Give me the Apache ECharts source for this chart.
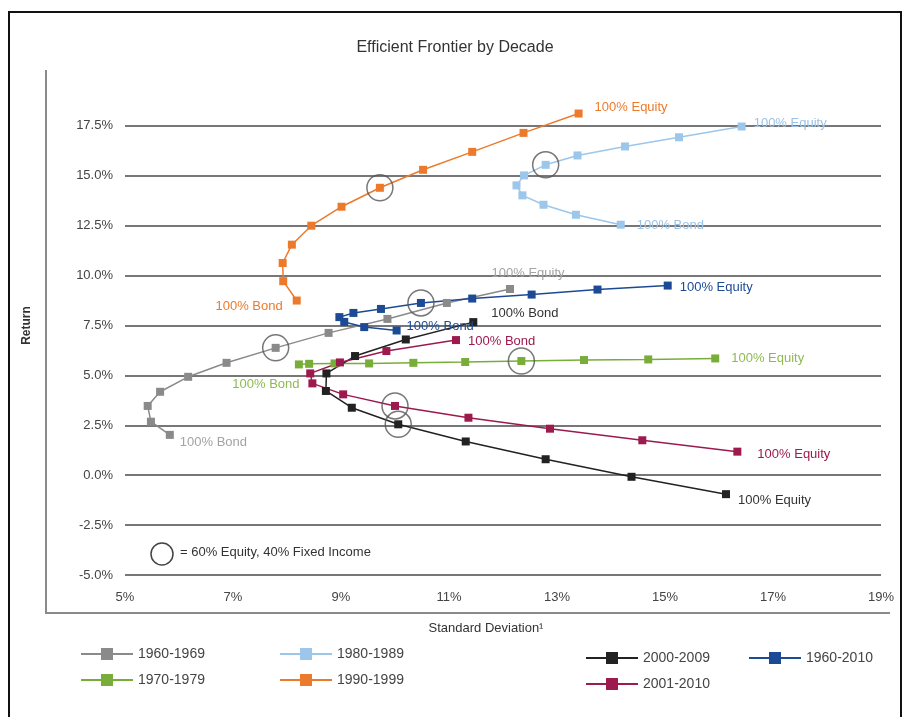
<!DOCTYPE html>
<html>
<head>
<meta charset="utf-8">
<script src="https://cdn.jsdelivr.net/npm/echarts@6/dist/echarts.min.js"></script>
<style>html,body{margin:0;padding:0;background:#fff;}#c{width:910px;height:717px;}</style>
</head>
<body>
<div id="c"></div>
<script>
// Standard deviation (%) and return (%) for each portfolio mix, from 100% bond to 100% equity
const sd1960s = [5.83, 5.48, 5.42, 5.65, 6.17, 6.88, 7.79, 8.77, 9.86, 10.96, 12.13];
const ret1960s = [2.02, 2.68, 3.47, 4.18, 4.93, 5.63, 6.38, 7.13, 7.83, 8.63, 9.33];
const sd1970s = [8.22, 8.41, 8.88, 9.52, 10.34, 11.30, 12.34, 13.50, 14.69, 15.93];
const ret1970s = [5.55, 5.58, 5.60, 5.60, 5.63, 5.67, 5.72, 5.77, 5.80, 5.85];
const sd1980s = [14.18, 13.35, 12.75, 12.36, 12.25, 12.39, 12.79, 13.38, 14.26, 15.26, 16.42];
const ret1980s = [12.55, 13.05, 13.55, 14.02, 14.52, 15.02, 15.55, 16.02, 16.47, 16.93, 17.47];
const sd1990s = [8.18, 7.93, 7.92, 8.09, 8.45, 9.01, 9.72, 10.52, 11.43, 12.38, 13.40];
const ret1990s = [8.75, 9.72, 10.63, 11.55, 12.50, 13.45, 14.40, 15.30, 16.20, 17.15, 18.12];
const sd2000s = [11.45, 10.20, 9.26, 8.73, 8.72, 9.20, 10.06, 11.31, 12.79, 14.38, 16.13];
const ret2000s = [7.67, 6.80, 5.97, 5.10, 4.22, 3.38, 2.55, 1.69, 0.80, -0.08, -0.95];
const sd2001 = [11.13, 9.84, 8.98, 8.43, 8.47, 9.04, 10.00, 11.36, 12.87, 14.58, 16.34];
const ret2001 = [6.77, 6.22, 5.65, 5.10, 4.60, 4.05, 3.47, 2.88, 2.33, 1.75, 1.18];
const sdAll = [10.03, 9.43, 9.06, 8.97, 9.23, 9.74, 10.48, 11.43, 12.53, 13.75, 15.05];
const retAll = [7.25, 7.42, 7.68, 7.92, 8.13, 8.33, 8.63, 8.85, 9.05, 9.30, 9.50];
const circleIndex = 6; // 60% equity / 40% fixed income mix
const xTicks = {min: 5, max: 19, interval: 2};
const yTicks = {min: -5, max: 20, interval: 2.5};
const bondText = '100% Bond';
const equityText = '100% Equity';

const defs = [
  {name: '1960-1969', sd: sd1960s, ret: ret1960s, color: '#8a8a8a', lab: '#a3a3a3',
   bond: {position: 'right', distance: 6, offset: [0, 8]}, eq: {position: 'top', offset: [18, 0]}},
  {name: '1970-1979', sd: sd1970s, ret: ret1970s, color: '#79ad3a', lab: '#8dbb4f',
   bond: {position: 'bottom', offset: [-33, 4]}, eq: {position: 'right', distance: 12, offset: [0, 0]}},
  {name: '1980-1989', sd: sd1980s, ret: ret1980s, color: '#9cc6ea', lab: '#9cc3e6',
   bond: {position: 'right', distance: 12, offset: [0, 1]}, eq: {position: 'right', distance: 8, offset: [0, -3]}},
  {name: '1990-1999', sd: sd1990s, ret: ret1990s, color: '#ec7a2c', lab: '#ec7a2c',
   bond: {position: 'left', distance: 10, offset: [0, 6]}, eq: {position: 'right', distance: 12, offset: [0, -6]}},
  {name: '2000-2009', sd: sd2000s, ret: ret2000s, color: '#222222', lab: '#333333',
   bond: {position: 'right', distance: 14, offset: [0, -9]}, eq: {position: 'right', distance: 8, offset: [0, 6]}},
  {name: '2001-2010', sd: sd2001, ret: ret2001, color: '#9c1a4e', lab: '#9c1a4e',
   bond: {position: 'right', distance: 8, offset: [0, 1]}, eq: {position: 'right', distance: 16, offset: [0, 3]}},
  {name: '1960-2010', sd: sdAll, ret: retAll, color: '#1c4a94', lab: '#1c4a94',
   bond: {position: 'right', distance: 6, offset: [0, -4]}, eq: {position: 'right', distance: 8, offset: [0, 2]}}
];

const series = defs.map(d => ({
  name: d.name,
  type: 'line',
  symbol: 'rect',
  symbolSize: 8,
  z: 3,
  color: d.color,
  lineStyle: {width: 1.5, color: d.color},
  itemStyle: {color: d.color},
  data: d.sd.map((x, i) => {
    const item = {value: [x, d.ret[i]]};
    const isBond = i === 0;
    const isEq = i === d.sd.length - 1;
    if (isBond || isEq) {
      const cfg = isBond ? d.bond : d.eq;
      item.label = Object.assign({show: true, formatter: isBond ? bondText : equityText,
        color: d.lab, fontSize: 13, fontFamily: 'Liberation Sans'}, cfg);
    }
    return item;
  })
}));

series.push({
  name: '60/40',
  type: 'scatter',
  symbol: 'circle',
  symbolSize: 26,
  z: 5,
  itemStyle: {color: 'rgba(0,0,0,0)', borderColor: '#555', borderWidth: 1.5},
  data: defs.map(d => [d.sd[circleIndex], d.ret[circleIndex]])
});

function legendAt(name, left, top) {
  return {data: [name], left: left, top: top, itemWidth: 52, itemHeight: 15, itemGap: 5,
    textStyle: {fontSize: 14, color: '#444', fontFamily: 'Liberation Sans'}, selectedMode: false};
}

const chart = echarts.init(document.getElementById('c'));
chart.setOption({
  animation: false,
  backgroundColor: '#fff',
  title: {text: 'Efficient Frontier by Decade', left: 'center', top: 35,
    textStyle: {fontSize: 16, fontWeight: 'normal', color: '#333', fontFamily: 'Liberation Sans'}},
  grid: {left: 125, right: 29, top: 76, bottom: 142},
  legend: [
    legendAt('1960-1969', 75, 642),
    legendAt('1980-1989', 274, 642),
    legendAt('1970-1979', 75, 668),
    legendAt('1990-1999', 274, 668),
    legendAt('2000-2009', 580, 646),
    legendAt('1960-2010', 743, 646),
    legendAt('2001-2010', 580, 672)
  ],
  xAxis: {
    type: 'value', min: xTicks.min, max: xTicks.max, interval: xTicks.interval,
    name: 'Standard Deviation¹', nameLocation: 'middle', nameGap: 47,
    nameTextStyle: {fontSize: 13, color: '#333', padding: [0, 34, 0, 0], fontFamily: 'Liberation Sans'},
    axisLine: {show: false}, axisTick: {show: false}, splitLine: {show: false},
    axisLabel: {formatter: v => v + '%', fontSize: 13, color: '#444', margin: 16, fontFamily: 'Liberation Sans'}
  },
  yAxis: {
    type: 'value', min: yTicks.min, max: yTicks.max, interval: yTicks.interval,
    name: 'Return', nameLocation: 'middle', nameGap: 92, nameRotate: 90,
    nameTextStyle: {fontSize: 12, color: '#333', fontWeight: 'bold', fontFamily: 'Liberation Sans'},
    axisLine: {show: false}, axisTick: {show: false},
    splitLine: {show: true, showMaxLine: false, lineStyle: {color: '#4a4a4a', width: 1.5}},
    axisLabel: {formatter: v => v.toFixed(1) + '%', fontSize: 13, color: '#444', margin: 12,
      showMaxLabel: false, fontFamily: 'Liberation Sans'}
  },
  graphic: [
    {type: 'rect', shape: {x: 9, y: 12, width: 892, height: 720}, style: {fill: 'none', stroke: '#111', lineWidth: 2}, silent: true},
    {type: 'polyline', shape: {points: [[46, 70], [46, 613], [890, 613]]}, style: {fill: 'none', stroke: '#8a8a8a', lineWidth: 2}, silent: true},
    {type: 'circle', shape: {cx: 162, cy: 554, r: 11}, style: {fill: 'none', stroke: '#444', lineWidth: 1.5}, silent: true},
    {type: 'text', left: 180, top: 546, style: {text: '= 60% Equity, 40% Fixed Income', fontSize: 13, fill: '#333', fontFamily: 'Liberation Sans'}, silent: true}
  ],
  series: series
});
</script>
</body>
</html>
